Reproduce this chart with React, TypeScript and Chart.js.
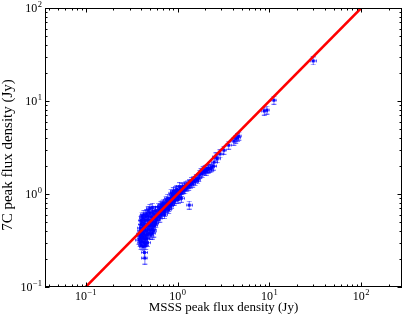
import React, { useEffect, useRef } from "react";
import { Chart, registerables } from "chart.js";

Chart.register(...registerables);

// MSSS peak flux (Jy), 7C peak flux (Jy)
const lowCluster: [number, number][] = [
  [0.39, 0.30], [0.40, 0.28], [0.41, 0.31], [0.40, 0.33], [0.39, 0.35], [0.41, 0.36], [0.42, 0.34],
  [0.40, 0.38], [0.39, 0.40], [0.41, 0.42], [0.42, 0.39], [0.43, 0.37], [0.44, 0.33], [0.43, 0.30],
  [0.45, 0.35], [0.44, 0.41], [0.42, 0.45], [0.40, 0.47], [0.41, 0.50], [0.43, 0.48], [0.45, 0.44],
  [0.46, 0.40], [0.47, 0.37], [0.46, 0.33], [0.48, 0.42], [0.47, 0.46], [0.44, 0.52], [0.42, 0.55],
  [0.45, 0.57], [0.47, 0.53], [0.49, 0.49], [0.50, 0.45], [0.51, 0.41], [0.49, 0.38], [0.52, 0.47],
  [0.50, 0.52], [0.48, 0.58], [0.46, 0.61], [0.43, 0.60], [0.53, 0.51], [0.54, 0.45], [0.55, 0.49],
  [0.56, 0.54], [0.52, 0.57], [0.50, 0.62], [0.57, 0.50], [0.58, 0.56], [0.55, 0.60], [0.59, 0.53],
  [0.60, 0.58], [0.38, 0.32], [0.385, 0.37], [0.395, 0.43], [0.40, 0.52], [0.41, 0.58],
  [0.42, 0.27], [0.45, 0.28], [0.47, 0.30], [0.44, 0.29], [0.50, 0.70], [0.53, 0.72], [0.48, 0.66],
  [0.51, 0.36], [0.53, 0.42], [0.56, 0.46], [0.58, 0.48], [0.54, 0.63], [0.57, 0.66],
];

const midBand: [number, number][] = [
  [0.61, 0.62], [0.62, 0.58], [0.63, 0.66], [0.64, 0.61], [0.65, 0.69], [0.66, 0.63], [0.67, 0.60],
  [0.68, 0.70], [0.69, 0.66], [0.70, 0.73], [0.71, 0.68], [0.72, 0.64], [0.73, 0.75], [0.74, 0.71],
  [0.75, 0.78], [0.76, 0.70], [0.77, 0.74], [0.78, 0.81], [0.79, 0.76], [0.80, 0.72], [0.81, 0.84],
  [0.82, 0.79], [0.83, 0.75], [0.84, 0.88], [0.85, 0.82], [0.86, 0.78], [0.87, 0.91], [0.88, 0.85],
  [0.89, 0.83], [0.90, 0.95], [0.91, 0.88], [0.92, 0.84], [0.93, 0.98], [0.94, 0.91], [0.95, 0.87],
  [0.96, 1.02], [0.98, 0.94], [1.00, 1.05], [1.01, 0.97], [1.03, 0.93], [1.04, 1.09], [1.06, 1.01],
  [1.08, 1.13], [1.10, 1.04], [1.12, 1.17], [1.14, 1.08], [1.16, 1.12], [1.18, 1.20], [1.20, 1.11],
  [1.23, 1.24], [1.26, 1.17], [1.29, 1.28], [1.32, 1.21], [1.35, 1.30], [1.38, 1.26], [1.42, 1.36],
  [1.46, 1.31], [1.50, 1.40], [1.55, 1.36], [1.60, 1.45], [1.65, 1.42], [1.70, 1.50],
  [0.66, 0.75], [0.70, 0.80], [0.58, 0.66], [0.62, 0.72], [0.75, 0.86], [0.88, 0.98], [1.05, 1.20],
  [0.95, 1.08], [0.85, 1.02], [0.90, 1.06], [1.10, 0.90], [1.34, 0.76],
  [0.64, 0.55], [0.72, 0.60], [0.80, 0.68], [0.78, 0.90], [0.68, 0.78], [0.98, 1.12], [1.02, 0.88],
];

const brightSources: [number, number][] = [
  [1.75, 1.62], [1.80, 1.70], [1.85, 1.66], [1.90, 1.78], [1.95, 1.74], [2.00, 1.82], [2.05, 1.76],
  [2.10, 1.88], [2.15, 1.84], [2.20, 1.90], [2.30, 1.86], [2.35, 1.95], [2.45, 2.00], [2.62, 2.50],
  [2.50, 2.20], [2.70, 2.40], [2.90, 2.70], [3.20, 2.95], [3.60, 3.35], [4.10, 3.70], [4.30, 3.90],
  [4.65, 4.20], [4.50, 4.05], [8.80, 7.80], [9.40, 8.00], [11.2, 10.2], [30.0, 27.0],
];

const largeErrorSources: [number, number][] = [
  [0.435, 0.235], [0.44, 0.205], [0.53, 0.38], [0.55, 0.40],
];

const oneToOne: [number, number][] = [[0.1, 0.1], [100, 100]];

const X_MIN = 0.036;
const X_MAX = 278;
const Y_MIN = 0.1;
const Y_MAX = 100;

const X_TITLE = "MSSS peak flux density (Jy)";
const Y_TITLE = "7C peak flux density (Jy)";

const SERIF = "'Liberation Serif', 'Times New Roman', serif";

function makeGlyph(w: number, h: number): HTMLCanvasElement {
  const c = document.createElement("canvas");
  c.width = w;
  c.height = h;
  const g = c.getContext("2d")!;
  g.fillStyle = "rgba(0,0,255,0.55)";
  const cx = Math.floor(w / 2);
  const cy = Math.floor(h / 2);
  g.fillRect(cx, 0, 1, h);
  g.fillRect(cx - 2, 0, 5, 1);
  g.fillRect(cx - 2, h - 1, 5, 1);
  g.fillRect(0, cy, w, 1);
  g.fillRect(0, cy - 1, 1, 3);
  g.fillRect(w - 1, cy - 1, 1, 3);
  g.fillStyle = "rgba(0,0,255,0.9)";
  g.fillRect(cx - 1, cy - 1, 3, 3);
  return c;
}

const frameTicks = {
  id: "frameTicks",
  afterDraw(chart: any) {
    const { ctx, chartArea: a } = chart;
    const xs = chart.scales.x;
    const ys = chart.scales.y;
    ctx.save();
    ctx.strokeStyle = "#000";
    ctx.lineWidth = 1;
    ctx.strokeRect(Math.round(a.left) + 0.5, Math.round(a.top) + 0.5, Math.round(a.right - a.left) - 1, Math.round(a.bottom - a.top) - 1);

    const drawTicks = (scale: any, min: number, max: number, horizontal: boolean) => {
      for (let k = Math.floor(Math.log10(min)); k <= Math.ceil(Math.log10(max)); k++) {
        for (let m = 1; m <= 9; m++) {
          const v = m * Math.pow(10, k);
          if (v < min * 0.999 || v > max * 1.001) continue;
          const len = m === 1 ? 4.5 : 2.5;
          const p = Math.round(scale.getPixelForValue(v)) + 0.5;
          ctx.beginPath();
          if (horizontal) {
            ctx.moveTo(p, a.bottom);
            ctx.lineTo(p, a.bottom - len);
            ctx.moveTo(p, a.top);
            ctx.lineTo(p, a.top + len);
          } else {
            ctx.moveTo(a.left, p);
            ctx.lineTo(a.left + len, p);
            ctx.moveTo(a.right, p);
            ctx.lineTo(a.right - len, p);
          }
          ctx.stroke();
        }
      }
    };
    drawTicks(xs, X_MIN, X_MAX, true);
    drawTicks(ys, Y_MIN, Y_MAX, false);

    const sup = (k: number) => (k < 0 ? "\u2212" + Math.abs(k) : String(k));
    const label = (k: number, px: number, py: number, align: "center" | "right") => {
      ctx.fillStyle = "#000";
      ctx.textBaseline = "alphabetic";
      ctx.textAlign = "left";
      ctx.font = `12px ${SERIF}`;
      const w1 = ctx.measureText("10").width;
      ctx.font = `8.5px ${SERIF}`;
      const e = sup(k);
      const w2 = ctx.measureText(e).width;
      const total = w1 + w2 + 0.5;
      const x0 = align === "center" ? px - total / 2 : px - total;
      ctx.font = `12px ${SERIF}`;
      ctx.fillText("10", x0, py);
      ctx.font = `8.5px ${SERIF}`;
      ctx.fillText(e, x0 + w1 + 0.5, py - 5);
    };
    for (let k = -2; k <= 3; k++) {
      const v = Math.pow(10, k);
      if (v >= X_MIN && v <= X_MAX) label(k, xs.getPixelForValue(v), a.bottom + 13, "center");
      if (v >= Y_MIN && v <= Y_MAX) label(k, a.left - 3, ys.getPixelForValue(v) + 4, "right");
    }

    // y-axis title
    ctx.save();
    ctx.translate(8, 155);
    ctx.rotate(-Math.PI / 2);
    ctx.font = `15px ${SERIF}`;
    ctx.textAlign = "center";
    ctx.textBaseline = "middle";
    ctx.fillStyle = "#000";
    ctx.fillText(Y_TITLE, 0, 0);
    ctx.restore();

    ctx.restore();
  },
};

export default function App() {
  const ref = useRef<HTMLCanvasElement | null>(null);
  useEffect(() => {
    if (!ref.current) return;
    const glyph = makeGlyph(7, 9);
    const tallGlyph = makeGlyph(7, 13);
    const toPts = (arr: [number, number][]) => arr.map(([x, y]) => ({ x, y }));
    const chart = new Chart(ref.current, {
      type: "scatter",
      data: {
        datasets: [
          {
            type: "line",
            data: toPts(oneToOne),
            borderColor: "rgb(255,0,0)",
            borderWidth: 2.5,
            pointRadius: 0,
            order: 0,
          } as any,
          {
            data: toPts([...lowCluster, ...midBand, ...brightSources]),
            pointStyle: glyph as any,
            order: 1,
          },
          {
            data: toPts(largeErrorSources),
            pointStyle: tallGlyph as any,
            order: 1,
          },
        ],
      },
      plugins: [frameTicks],
      options: {
        animation: false,
        responsive: false,
        devicePixelRatio: 1,
        layout: { padding: { top: 8, right: 3, left: 0, bottom: 0 } },
        plugins: { legend: { display: false }, tooltip: { enabled: false } },
        scales: {
          x: {
            type: "logarithmic",
            min: X_MIN,
            max: X_MAX,
            grid: { display: false },
            border: { display: false },
            ticks: { display: false },
            title: {
              display: true,
              text: X_TITLE,
              color: "#000",
              font: { family: SERIF, size: 13 },
              padding: { top: 0, bottom: 4 },
            },
            afterFit: (s: any) => {
              s.height = 32;
            },
          },
          y: {
            type: "logarithmic",
            min: Y_MIN,
            max: Y_MAX,
            grid: { display: false },
            border: { display: false },
            ticks: { display: false },
            title: { display: false },
            afterFit: (s: any) => {
              s.width = 45;
            },
          },
        },
      },
    });
    return () => chart.destroy();
  }, []);
  return (
    <div style={{ position: "absolute", left: 0, top: 0, width: 407, height: 319, background: "#fff" }}>
      <canvas ref={ref} width={407} height={319} />
    </div>
  );
}
